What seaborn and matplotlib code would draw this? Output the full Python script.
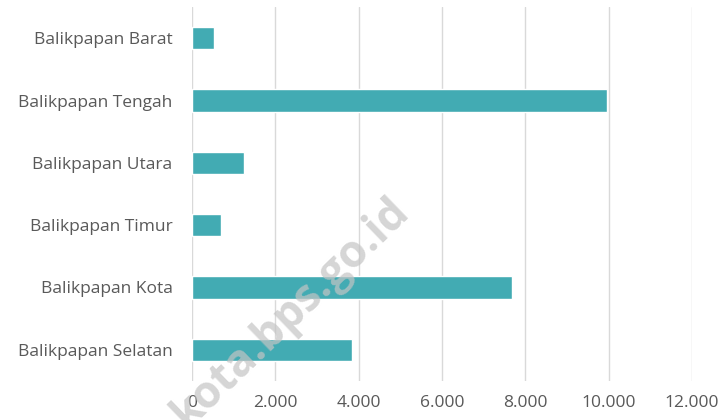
import matplotlib
matplotlib.use("Agg")
import matplotlib.pyplot as plt
import seaborn as sns
import pandas as pd

kecamatan = ["Balikpapan Barat", "Balikpapan Tengah", "Balikpapan Utara",
             "Balikpapan Timur", "Balikpapan Kota", "Balikpapan Selatan"]
nilai = [530, 9950, 1250, 690, 7680, 3840]
xticks = [0, 2000, 4000, 6000, 8000, 10000, 12000]
xlabels = ["0", "2.000", "4.000", "6.000", "8.000", "10.000", "12.000"]

df = pd.DataFrame({"kecamatan": kecamatan, "nilai": nilai})

sns.set_style("white")
plt.rcParams["font.family"] = ["Open Sans", "DejaVu Sans"]

fig = plt.figure(figsize=(7.28, 4.2), dpi=100)
ax = fig.add_axes([0.2637, 0.0929, 0.6868, 0.8904])
sns.barplot(data=df, x="nilai", y="kecamatan", orient="h", color="#42abb3",
            saturation=1, width=0.36, ax=ax)

ax.set_xlim(0, 12000)
ax.set_xticks(xticks)
ax.set_xticklabels(xlabels)
ax.set_xlabel("")
ax.set_ylabel("")
ax.grid(axis="x", color="#d9d9d9", linewidth=1)
ax.set_axisbelow(True)
for s in ax.spines.values():
    s.set_visible(False)
ax.tick_params(axis="both", length=0, labelsize=12.5, colors="#595959")
ax.tick_params(axis="x", pad=10)
ax.tick_params(axis="y", pad=14)

# watermark
fig.text(0.40, 0.255, "kota.bps.go.id", fontsize=32, fontweight="bold",
         color="#c4c4c4", alpha=0.7, rotation=44, ha="center", va="center")

fig.savefig("out.png", dpi=100)
